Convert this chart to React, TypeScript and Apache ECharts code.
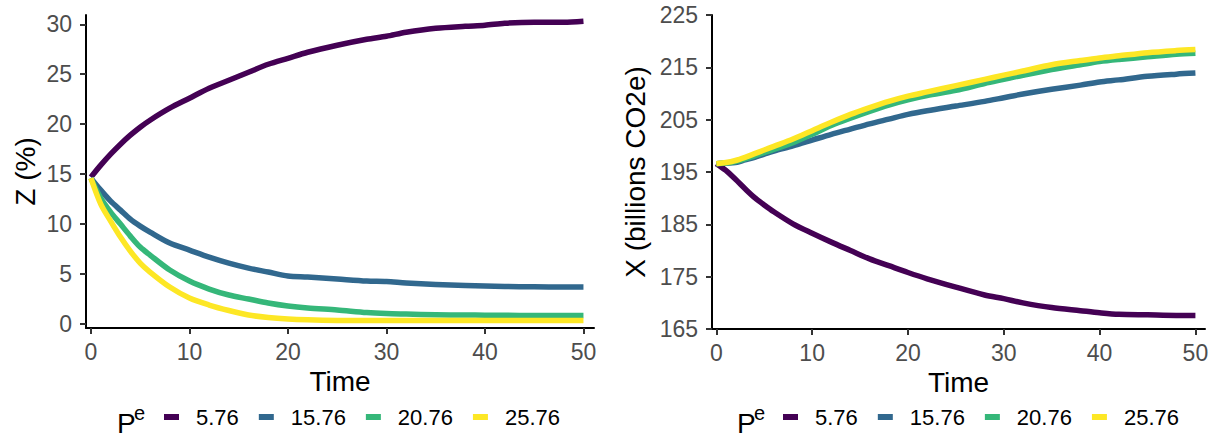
import React, { useEffect, useRef } from "react";
import * as echarts from "echarts";

// Time points (years)
const times = [0, 1, 2, 3, 4, 5, 6, 8, 10, 12, 14, 16, 18, 20, 22, 25, 28, 30, 32, 35, 38, 40, 42, 45, 48, 50];

const seriesNames = ["5.76", "15.76", "20.76", "25.76"];
const seriesColors = ["#440154", "#31688E", "#35B779", "#FDE725"];

// Left panel: Z (%)
const zP576 = [14.7, 15.9, 17.0, 18.0, 18.9, 19.7, 20.4, 21.6, 22.6, 23.6, 24.4, 25.2, 26.0, 26.6, 27.2, 27.9, 28.5, 28.8, 29.2, 29.6, 29.8, 29.9, 30.1, 30.2, 30.2, 30.3];
const zP1576 = [14.6, 13.4, 12.3, 11.4, 10.5, 9.8, 9.2, 8.1, 7.4, 6.7, 6.1, 5.6, 5.2, 4.8, 4.7, 4.5, 4.3, 4.25, 4.1, 3.95, 3.85, 3.8, 3.75, 3.72, 3.7, 3.7];
const zP2076 = [14.6, 12.6, 11.2, 10.0, 8.8, 7.7, 6.9, 5.4, 4.3, 3.5, 2.9, 2.5, 2.1, 1.8, 1.6, 1.4, 1.15, 1.05, 1.0, 0.93, 0.9, 0.88, 0.87, 0.86, 0.86, 0.86];
const zP2576 = [14.6, 12.0, 10.3, 8.7, 7.3, 6.1, 5.2, 3.7, 2.6, 1.9, 1.35, 0.9, 0.65, 0.5, 0.42, 0.36, 0.35, 0.35, 0.35, 0.35, 0.35, 0.35, 0.35, 0.35, 0.35, 0.35];

// Right panel: X (billions CO2e)
const xP576 = [196.6, 195.3, 193.6, 191.8, 190.1, 188.7, 187.4, 185.1, 183.3, 181.6, 180.0, 178.4, 177.1, 175.8, 174.6, 173.0, 171.5, 170.8, 170.0, 169.1, 168.5, 168.1, 167.8, 167.7, 167.6, 167.6];
const xP1576 = [196.6, 196.7, 196.8, 197.3, 197.8, 198.4, 199.0, 200.0, 201.1, 202.2, 203.2, 204.2, 205.1, 206.0, 206.7, 207.6, 208.5, 209.2, 209.9, 210.8, 211.6, 212.2, 212.6, 213.3, 213.7, 213.9];
const xP2076 = [196.6, 196.7, 197.0, 197.5, 198.1, 198.7, 199.3, 200.6, 202.2, 203.9, 205.3, 206.6, 207.8, 208.8, 209.6, 210.6, 211.9, 212.7, 213.5, 214.6, 215.5, 216.1, 216.5, 217.0, 217.5, 217.7];
const xP2576 = [196.6, 196.8, 197.2, 197.8, 198.5, 199.2, 199.9, 201.3, 202.9, 204.5, 206.0, 207.3, 208.5, 209.5, 210.3, 211.5, 212.7, 213.5, 214.3, 215.5, 216.3, 216.8, 217.2, 217.8, 218.2, 218.4];

const timeTicks = [0, 10, 20, 30, 40, 50];
const zTicks = [0, 5, 10, 15, 20, 25, 30];
const xTicks = [165, 175, 185, 195, 205, 215, 225];

const FONT = "'Liberation Sans', Arial, Helvetica, sans-serif";

export default function App() {
  const ref = useRef<HTMLDivElement>(null);

  useEffect(() => {
    if (!ref.current) return;
    const chart = echarts.init(ref.current, null, { renderer: "svg" });

    const leftData = [zP576, zP1576, zP2076, zP2576];
    const rightData = [xP576, xP1576, xP2076, xP2576];

    const mkXAxis = (gridIndex: number, min: number, max: number) => ({
      type: "value",
      gridIndex,
      min,
      max,
      name: "Time",
      nameLocation: "middle",
      nameGap: 38,
      nameTextStyle: { fontSize: 28, color: "#000", fontFamily: FONT },
      axisLine: { show: true, onZero: false, lineStyle: { color: "#000", width: 2 } },
      axisTick: { show: true, length: 6, lineStyle: { color: "#333", width: 2 }, customValues: timeTicks },
      axisLabel: { fontSize: 23, color: "#4D4D4D", margin: 12, fontFamily: FONT, customValues: timeTicks },
      splitLine: { show: false },
    });

    const mkYAxis = (gridIndex: number, min: number, max: number, name: string, nameGap: number, ticks: number[]) => ({
      type: "value",
      gridIndex,
      min,
      max,
      name,
      nameLocation: "middle",
      nameGap,
      nameRotate: 90,
      nameTextStyle: { fontSize: 28, color: "#000", fontFamily: FONT },
      axisLine: { show: true, onZero: false, lineStyle: { color: "#000", width: 2 } },
      axisTick: { show: true, length: 6, lineStyle: { color: "#333", width: 2 }, customValues: ticks },
      axisLabel: { fontSize: 23, color: "#4D4D4D", margin: 14, fontFamily: FONT, customValues: ticks },
      splitLine: { show: false },
    });

    const mkSeries = (name: string, i: number, idx: number, vals: number[]) => ({
      type: "line",
      name,
      xAxisIndex: idx,
      yAxisIndex: idx,
      data: times.map((t, k) => [t, vals[k]]),
      showSymbol: false,
      symbol: "none",
      smooth: 0.3,
      lineStyle: { color: seriesColors[i], width: 5.5, cap: "butt", join: "round" },
      itemStyle: { color: seriesColors[i] },
      z: 2 + i,
    });

    const series: any[] = [];
    seriesNames.forEach((name, i) => series.push(mkSeries(name, i, 0, leftData[i])));
    seriesNames.forEach((name, i) => series.push(mkSeries(name, i, 1, rightData[i])));

    const mkLegend = (left: number) => ({
      data: seriesNames,
      left,
      top: 406,
      orient: "horizontal",
      icon: "rect",
      itemWidth: 15,
      itemHeight: 6,
      itemGap: 20,
      padding: 0,
      selectedMode: false,
      textStyle: { fontSize: 22, color: "#000", fontFamily: FONT, padding: [0, 0, 0, 12] },
    });

    const mkTitle = (x: number) => [
      {
        type: "text",
        x,
        y: 423,
        style: { text: "P", fontSize: 28, fill: "#000", fontFamily: FONT, verticalAlign: "middle", align: "left" },
      },
      {
        type: "text",
        x: x + 17,
        y: 413,
        style: { text: "e", fontSize: 20, fill: "#000", fontFamily: FONT, verticalAlign: "middle", align: "left" },
      },
    ];

    chart.setOption({
      animation: false,
      backgroundColor: "#fff",
      textStyle: { fontFamily: FONT },
      grid: [
        { left: 86, top: 15, width: 508, height: 313 },
        { left: 712, top: 15, width: 493, height: 314 },
      ],
      xAxis: [mkXAxis(0, -0.5, 51.07), mkXAxis(1, -0.45, 51)],
      yAxis: [
        mkYAxis(0, -0.4, 30.93, "Z (%)", 47, zTicks),
        mkYAxis(1, 165, 225, "X (billions CO2e)", 63, xTicks),
      ],
      legend: [mkLegend(164), mkLegend(783)],
      graphic: [...mkTitle(117), ...mkTitle(737)],
      series,
    });

    return () => chart.dispose();
  }, []);

  return (
    <div
      ref={ref}
      style={{ position: "fixed", left: 0, top: 0, width: 1222, height: 441, background: "#fff" }}
    />
  );
}
